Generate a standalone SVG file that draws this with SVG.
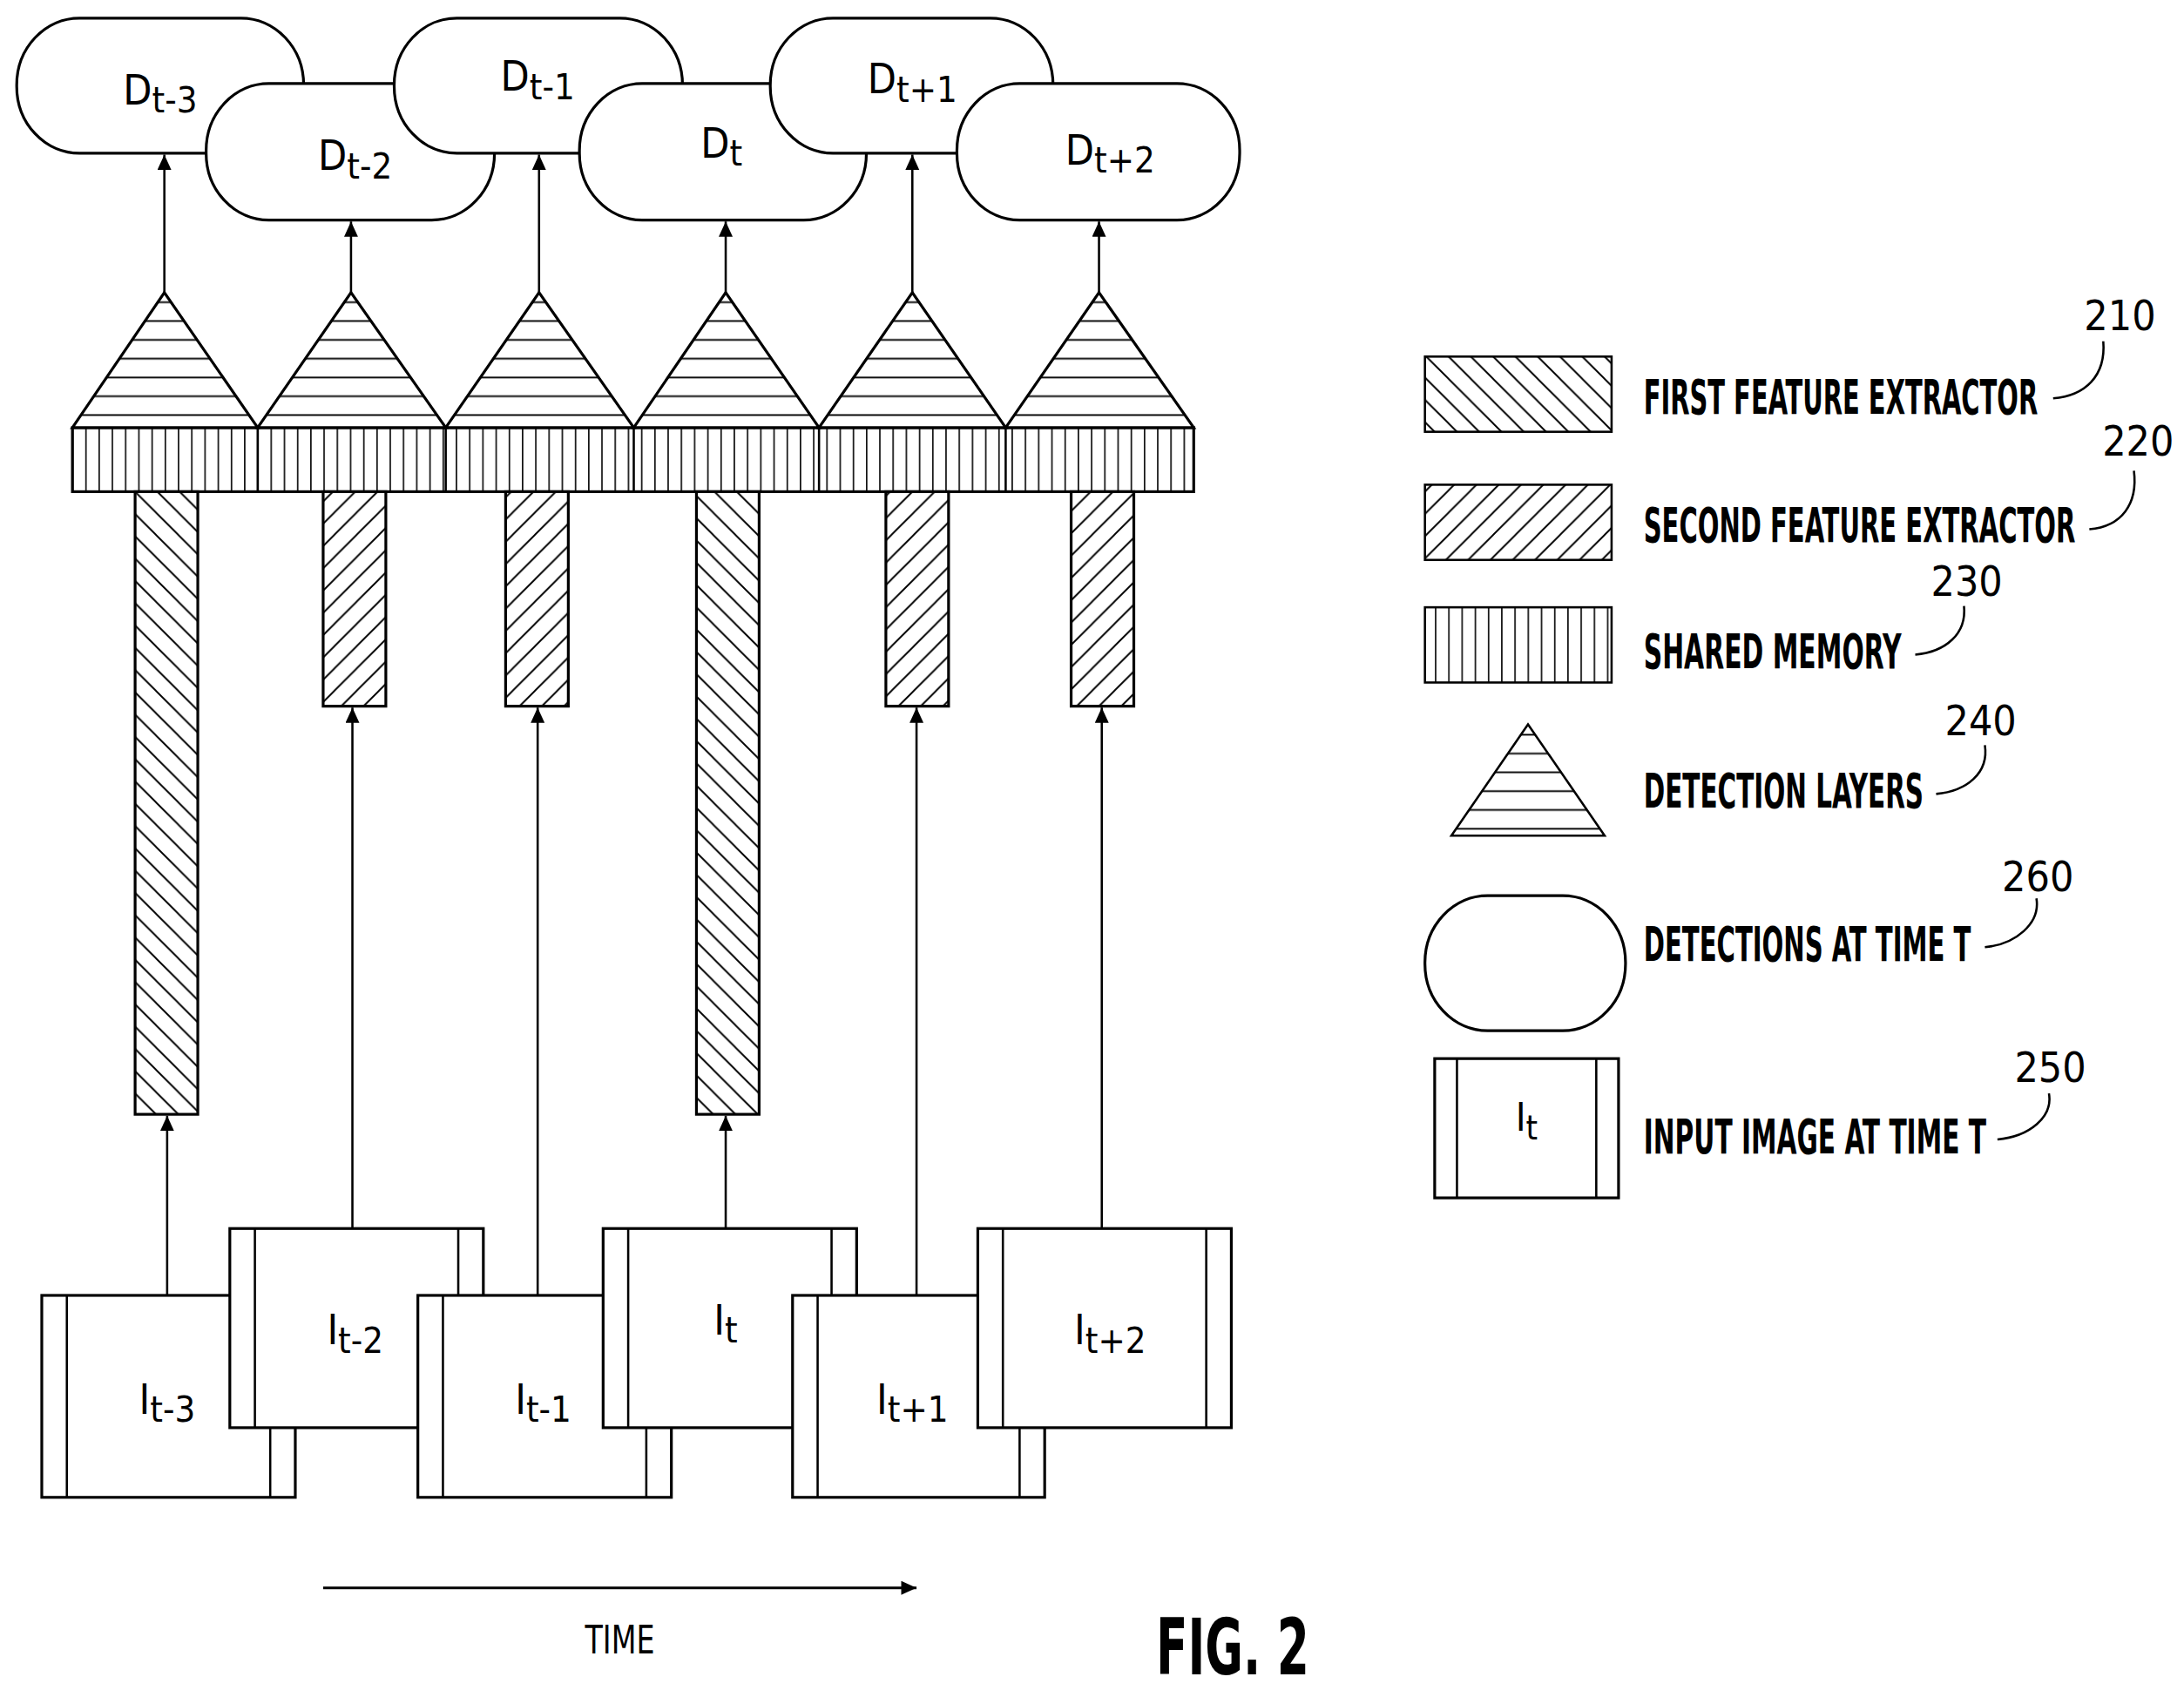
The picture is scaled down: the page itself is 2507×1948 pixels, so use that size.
<svg xmlns="http://www.w3.org/2000/svg" width="2507" height="1948" viewBox="0 0 2507 1948">
<style>
.o{fill:#fff;stroke:#000;stroke-width:2}
.l{stroke:#000;stroke-width:1.6;fill:none}
.t{font-family:"DejaVu Sans Condensed","DejaVu Sans",sans-serif;font-stretch:condensed;font-weight:bold;fill:#000}
.n{font-family:"DejaVu Sans Condensed","DejaVu Sans",sans-serif;font-stretch:condensed;fill:#000}
</style>
<defs>
<pattern id="p1" patternUnits="userSpaceOnUse" width="16" height="16"><rect width="16" height="16" fill="#fff"/><path d="M-4,-4 L20,20 M-4,12 L4,20 M12,-4 L20,4" stroke="#000" stroke-width="1.2"/></pattern>
<pattern id="p2" patternUnits="userSpaceOnUse" width="16" height="16"><rect width="16" height="16" fill="#fff"/><path d="M-4,20 L20,-4 M-4,4 L4,-4 M12,20 L20,12" stroke="#000" stroke-width="1.2"/></pattern>
<pattern id="p3" patternUnits="userSpaceOnUse" width="9.5" height="10"><rect width="9.5" height="10" fill="#fff"/><path d="M4.7,0 V10" stroke="#000" stroke-width="1"/></pattern>
<pattern id="p4" patternUnits="userSpaceOnUse" width="10" height="13.5" y="210"><rect width="10" height="13.5" fill="#fff"/><path d="M0,7 H10" stroke="#000" stroke-width="1.2"/></pattern>
<marker id="a" markerWidth="12" markerHeight="12" refX="11" refY="5" orient="auto" markerUnits="userSpaceOnUse"><path d="M0,0 L11,5 L0,10 Z" fill="#000"/></marker>
</defs>
<g transform="scale(1.5989)">
<g id="detections">
<g id="d1"><rect class="o" x="12" y="13" width="206" height="97" rx="45" ry="48"/><text class="n" x="115" y="75" font-size="30" text-anchor="middle">D<tspan font-size="26" dy="6">t-3</tspan></text></g>
<g id="d2"><rect class="o" x="148" y="60" width="207" height="98" rx="45" ry="48"/><text class="n" x="255" y="122" font-size="30" text-anchor="middle">D<tspan font-size="26" dy="6">t-2</tspan></text></g>
<g id="d3"><rect class="o" x="283" y="13" width="207" height="97" rx="45" ry="48"/><text class="n" x="386" y="65" font-size="30" text-anchor="middle">D<tspan font-size="26" dy="6">t-1</tspan></text></g>
<g id="d4"><rect class="o" x="416" y="60" width="206" height="98" rx="45" ry="48"/><text class="n" x="518" y="113" font-size="30" text-anchor="middle">D<tspan font-size="26" dy="6">t</tspan></text></g>
<g id="d5"><rect class="o" x="553" y="13" width="203" height="97" rx="45" ry="48"/><text class="n" x="655" y="67" font-size="30" text-anchor="middle">D<tspan font-size="26" dy="6">t+1</tspan></text></g>
<g id="d6"><rect class="o" x="687" y="60" width="203" height="98" rx="45" ry="48"/><text class="n" x="797" y="118" font-size="30" text-anchor="middle">D<tspan font-size="26" dy="6">t+2</tspan></text></g>
</g>
<g id="shared-memory">
<rect x="52" y="307" width="805" height="46" fill="url(#p3)" stroke="#000" stroke-width="2"/>
<path class="l" d="M185,307V353M320,307V353M455,307V353M588,307V353M722,307V353" stroke-width="2"/>
</g>
<g id="detection-layers" fill="url(#p4)" stroke="#000" stroke-width="2">
<path d="M52,307 L118,210 L185,307 Z"/>
<path d="M185,307 L252,210 L320,307 Z"/>
<path d="M320,307 L387,210 L455,307 Z"/>
<path d="M455,307 L521,210 L588,307 Z"/>
<path d="M588,307 L655,210 L722,307 Z"/>
<path d="M722,307 L789,210 L857,307 Z"/>
</g>
<g id="extractors" stroke="#000" stroke-width="2">
<rect x="97" y="353" width="45" height="447" fill="url(#p1)"/>
<rect x="500" y="353" width="45" height="447" fill="url(#p1)"/>
<rect x="232" y="353" width="45" height="154" fill="url(#p2)"/>
<rect x="363" y="353" width="45" height="154" fill="url(#p2)"/>
<rect x="636" y="353" width="45" height="154" fill="url(#p2)"/>
<rect x="769" y="353" width="45" height="154" fill="url(#p2)"/>
</g>
<g id="images">
<g id="i1"><rect class="o" x="30" y="930" width="182" height="145"/><path class="l" d="M48,930V1075M194,930V1075"/><text class="n" x="120" y="1015" font-size="30" text-anchor="middle">I<tspan font-size="26" dy="6">t-3</tspan></text></g>
<g id="i2"><rect class="o" x="165" y="882" width="182" height="143"/><path class="l" d="M183,882V1025M329,882V1025"/><text class="n" x="255" y="965" font-size="30" text-anchor="middle">I<tspan font-size="26" dy="6">t-2</tspan></text></g>
<g id="i3"><rect class="o" x="300" y="930" width="182" height="145"/><path class="l" d="M318,930V1075M464,930V1075"/><text class="n" x="390" y="1015" font-size="30" text-anchor="middle">I<tspan font-size="26" dy="6">t-1</tspan></text></g>
<g id="i4"><rect class="o" x="433" y="882" width="182" height="143"/><path class="l" d="M451,882V1025M597,882V1025"/><text class="n" x="521" y="958" font-size="30" text-anchor="middle">I<tspan font-size="26" dy="6">t</tspan></text></g>
<g id="i5"><rect class="o" x="569" y="930" width="181" height="145"/><path class="l" d="M587,930V1075M732,930V1075"/><text class="n" x="655" y="1015" font-size="30" text-anchor="middle">I<tspan font-size="26" dy="6">t+1</tspan></text></g>
<g id="i6"><rect class="o" x="702" y="882" width="182" height="143"/><path class="l" d="M720,882V1025M866,882V1025"/><text class="n" x="797" y="965" font-size="30" text-anchor="middle">I<tspan font-size="26" dy="6">t+2</tspan></text></g>
</g>
<g id="connectors" class="l" marker-end="url(#a)">
<path d="M118,210V111"/><path d="M252,210V159"/><path d="M387,210V111"/><path d="M521,210V159"/><path d="M655,210V111"/><path d="M789,210V159"/>
<path d="M120,930V801"/><path d="M253,882V508"/><path d="M386,930V508"/><path d="M521,882V801"/><path d="M658,930V508"/><path d="M791,882V508"/>
<path d="M232,1140H658" stroke-width="2"/>
</g>
<text class="n" x="445" y="1187" font-size="28" text-anchor="middle" textLength="50" lengthAdjust="spacingAndGlyphs">TIME</text>
<text class="t" x="830" y="1202" font-size="56" textLength="110" lengthAdjust="spacingAndGlyphs">FIG. 2</text>
<g id="legend">
<rect x="1023" y="256" width="134" height="54" fill="url(#p1)" stroke="#000" stroke-width="1.6"/>
<text class="t" x="1180" y="297" font-size="34" textLength="283" lengthAdjust="spacingAndGlyphs">FIRST FEATURE EXTRACTOR</text>
<path class="l" d="M1474,286 C1497,284 1512,270 1510,245"/><text class="n" x="1522" y="237" font-size="30" text-anchor="middle">210</text>
<rect x="1023" y="348" width="134" height="54" fill="url(#p2)" stroke="#000" stroke-width="1.6"/>
<text class="t" x="1180" y="389" font-size="34" textLength="310" lengthAdjust="spacingAndGlyphs">SECOND FEATURE EXTRACTOR</text>
<path class="l" d="M1500,380 C1523,378 1535,362 1532,338"/><text class="n" x="1535" y="327" font-size="30" text-anchor="middle">220</text>
<rect x="1023" y="436" width="134" height="54" fill="url(#p3)" stroke="#000" stroke-width="1.6"/>
<text class="t" x="1180" y="480" font-size="34" textLength="185" lengthAdjust="spacingAndGlyphs">SHARED MEMORY</text>
<path class="l" d="M1375,470 C1397,468 1412,455 1410,435"/><text class="n" x="1412" y="428" font-size="30" text-anchor="middle">230</text>
<path d="M1042,600 L1097,520 L1152,600 Z" fill="url(#p4)" stroke="#000" stroke-width="1.6"/>
<text class="t" x="1180" y="580" font-size="34" textLength="201" lengthAdjust="spacingAndGlyphs">DETECTION LAYERS</text>
<path class="l" d="M1390,570 C1412,568 1428,555 1425,535"/><text class="n" x="1422" y="528" font-size="30" text-anchor="middle">240</text>
<rect class="o" x="1023" y="643" width="144" height="97" rx="45" ry="48" stroke-width="1.6"/>
<text class="t" x="1180" y="690" font-size="34" textLength="235" lengthAdjust="spacingAndGlyphs">DETECTIONS AT TIME T</text>
<path class="l" d="M1425,680 C1447,678 1465,663 1462,645"/><text class="n" x="1463" y="640" font-size="30" text-anchor="middle">260</text>
<rect class="o" x="1030" y="760" width="132" height="100" stroke-width="1.6"/>
<path class="l" d="M1046,760V860M1146,760V860"/>
<text class="n" x="1096" y="812" font-size="28" text-anchor="middle">I<tspan font-size="24" dy="6">t</tspan></text>
<text class="t" x="1180" y="828" font-size="34" textLength="246" lengthAdjust="spacingAndGlyphs">INPUT IMAGE AT TIME T</text>
<path class="l" d="M1434,818 C1457,816 1474,802 1471,785"/><text class="n" x="1472" y="777" font-size="30" text-anchor="middle">250</text>
</g>
</g>
</svg>
